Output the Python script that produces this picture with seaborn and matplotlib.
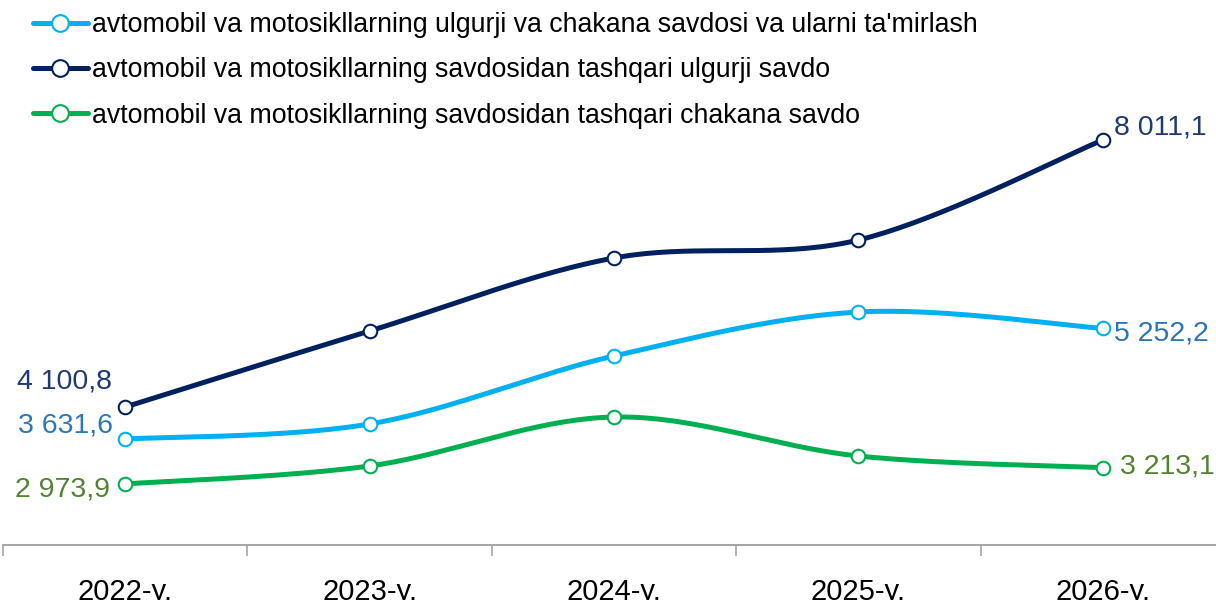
import numpy as np
import pandas as pd
import matplotlib
matplotlib.use("Agg")
import matplotlib.pyplot as plt
import seaborn as sns
from matplotlib.lines import Line2D

years = ["2022-y.", "2023-y.", "2024-y.", "2025-y.", "2026-y."]
series_names = [
    "avtomobil va motosikllarning ulgurji va chakana savdosi va ularni ta'mirlash",
    "avtomobil va motosikllarning savdosidan tashqari ulgurji savdo",
    "avtomobil va motosikllarning savdosidan tashqari chakana savdo",
]
repair = [3631.6, 3852.0, 4848.0, 5492.0, 5252.2]
wholesale = [4100.8, 5214.0, 6283.0, 6546.0, 8011.1]
retail = [2973.9, 3237.0, 3954.0, 3383.0, 3213.1]

line_colors = ["#00B0F0", "#002060", "#00B050"]
label_colors = ["#2E75B6", "#1F3A73", "#548235"]

sns.set_theme(style="white")
plt.rcParams["font.family"] = ["Liberation Sans", "DejaVu Sans"]
plt.rcParams["text.color"] = "black"

fig = plt.figure(figsize=(12.16, 6.0), dpi=100)
ax = fig.add_axes([3 / 1216, 55 / 600, 1222 / 1216, 545 / 600])

x = np.arange(len(years))


def smooth(xs, ys, n=40):
    xs = np.asarray(xs, float)
    ys = np.asarray(ys, float)
    P = np.column_stack([xs, ys])
    out = []
    for i in range(len(P) - 1):
        p0 = P[i - 1] if i > 0 else P[i]
        p1 = P[i]
        p2 = P[i + 1]
        p3 = P[i + 2] if i + 2 < len(P) else P[i + 1]
        c1 = p1 + (p2 - p0) / 6.0
        c2 = p2 - (p3 - p1) / 6.0
        t = np.linspace(0, 1, n)[:, None]
        seg = (1 - t) ** 3 * p1 + 3 * (1 - t) ** 2 * t * c1 + 3 * (1 - t) * t ** 2 * c2 + t ** 3 * p2
        if i > 0:
            seg = seg[1:]
        out.append(seg)
    out = np.vstack(out)
    return out[:, 0], out[:, 1]


all_series = [repair, wholesale, retail]
for vals, col in zip(all_series, line_colors):
    sx, sy = smooth(x, vals)
    df = pd.DataFrame({"x": sx, "y": sy})
    sns.lineplot(data=df, x="x", y="y", ax=ax, color=col, linewidth=3.6, sort=False,
                 estimator=None, zorder=2)
    dfp = pd.DataFrame({"x": x, "y": vals})
    sns.scatterplot(data=dfp, x="x", y="y", ax=ax, color="white", edgecolor=col,
                    s=95, linewidth=1.5, zorder=3)

def fmt(v):
    s = f"{v:,.1f}".replace(",", " ").replace(".", ",")
    return s

fs = 20.5
# left labels
ax.annotate(fmt(wholesale[0]), (x[0], wholesale[0]), xytext=(-13, 25), textcoords="offset pixels",
            ha="right", va="center", fontsize=fs, color=label_colors[1])
ax.annotate(fmt(repair[0]), (x[0], repair[0]), xytext=(-12, 14), textcoords="offset pixels",
            ha="right", va="center", fontsize=fs, color=label_colors[0])
ax.annotate(fmt(retail[0]), (x[0], retail[0]), xytext=(-15, -6), textcoords="offset pixels",
            ha="right", va="center", fontsize=fs, color=label_colors[2])
# right labels
ax.annotate(fmt(wholesale[-1]), (x[-1], wholesale[-1]), xytext=(11, 12), textcoords="offset pixels",
            ha="left", va="center", fontsize=fs, color=label_colors[1])
ax.annotate(fmt(repair[-1]), (x[-1], repair[-1]), xytext=(11, -5), textcoords="offset pixels",
            ha="left", va="center", fontsize=fs, color=label_colors[0])
ax.annotate(fmt(retail[-1]), (x[-1], retail[-1]), xytext=(17, 1), textcoords="offset pixels",
            ha="left", va="center", fontsize=fs, color=label_colors[2])

ax.set_xlim(-0.5, 4.5)
ax.set_ylim(2079.8, 10061)
ax.set_xticks(x)
ax.set_xticklabels(years, fontsize=21, color="black")
ax.set_xticks(np.arange(-0.5, 5.0, 1.0), minor=True)
ax.tick_params(axis="x", which="major", length=0, pad=24)
ax.tick_params(axis="x", which="minor", length=8, width=1.2, color="#A6A6A6", direction="out")
ax.tick_params(axis="x", which="minor", bottom=True)
ax.set_yticks([])
ax.set_xlabel("")
ax.set_ylabel("")
for side in ["top", "right", "left"]:
    ax.spines[side].set_visible(False)
ax.spines["bottom"].set_color("#A6A6A6")
ax.spines["bottom"].set_linewidth(1.5)

handles = [Line2D([0], [0], color=c, lw=3.6, marker="o", markersize=12,
                  markerfacecolor="white", markeredgecolor=c, markeredgewidth=1.5)
           for c in line_colors]
leg = fig.legend(handles, series_names, loc="upper left", bbox_to_anchor=(33 / 1216, 1 - 12 / 600),
                 frameon=False, fontsize=19.3, handlelength=2.05, handletextpad=0.15,
                 labelspacing=0.72, borderaxespad=0, borderpad=0, labelcolor="black")

fig.savefig("out.png", dpi=100)
